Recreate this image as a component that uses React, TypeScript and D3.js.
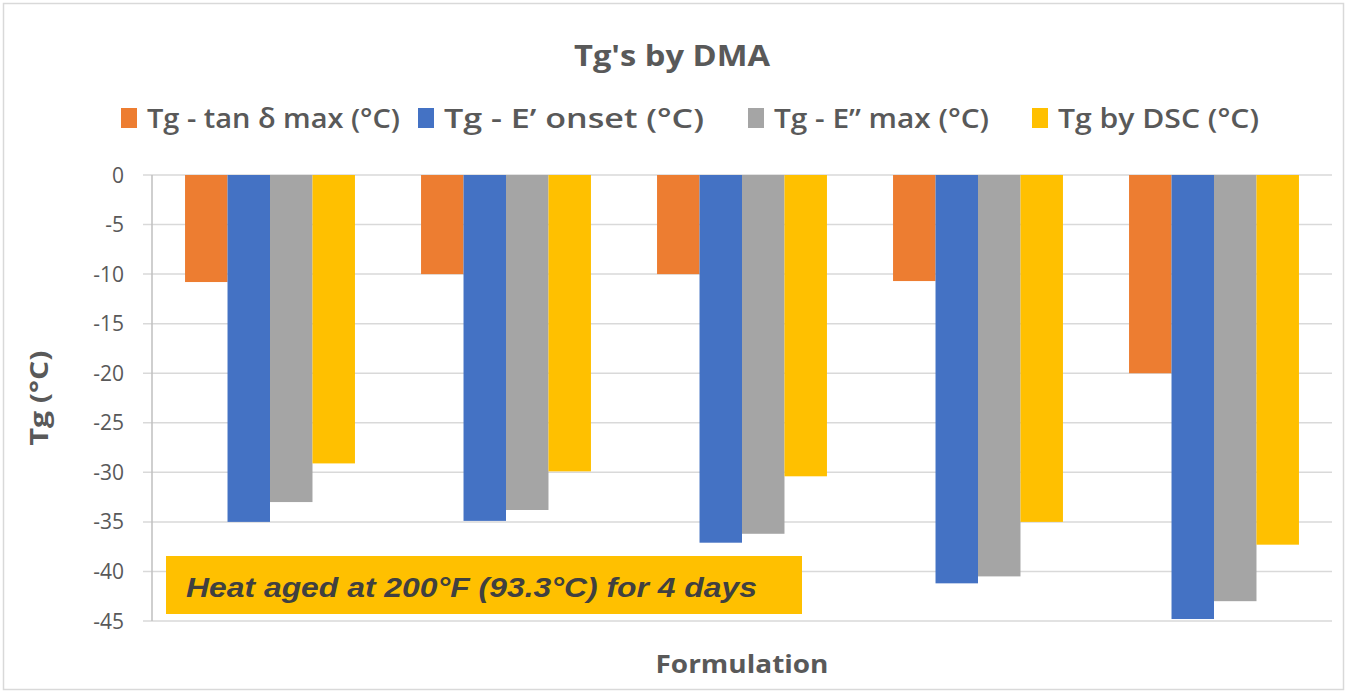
import React, { useEffect, useRef } from 'react';
import * as d3 from 'd3';

const categories = ['F1', 'F2', 'F3', 'F4', 'F5'];
const seriesNames = ['Tg - tan δ max (°C)', 'Tg - E’ onset (°C)', 'Tg - E” max (°C)', 'Tg by DSC (°C)'];
const seriesColors = ['#ED7D31', '#4472C4', '#A5A5A5', '#FFC000'];
const tanDeltaMax = [-10.8, -10.0, -10.0, -10.7, -20.0];
const eOnset = [-35.0, -34.9, -37.1, -41.2, -44.8];
const eDoubleMax = [-33.0, -33.8, -36.2, -40.5, -43.0];
const dscTg = [-29.1, -29.9, -30.4, -35.0, -37.3];
const yTicks = [0, -5, -10, -15, -20, -25, -30, -35, -40, -45];

const W = 1347;
const H = 693;
const plot = { left: 152, right: 1332, top: 175, bottom: 621 };

const ChartDMA: React.FC = () => {
  const svgRef = useRef<SVGSVGElement>(null);

  useEffect(() => {
    if (!svgRef.current) return;
    const svg = d3.select(svgRef.current);
    svg.selectAll('*').remove();

    const series = [tanDeltaMax, eOnset, eDoubleMax, dscTg];

    // chart frame
    svg.append('rect')
      .attr('x', 3.5).attr('y', 3.5)
      .attr('width', W - 7).attr('height', H - 7)
      .attr('fill', '#fff').attr('stroke', '#d9d9d9').attr('stroke-width', 1.5);

    const y = d3.scaleLinear().domain([0, -45]).range([plot.top, plot.bottom]);
    const x0 = d3.scaleBand().domain(categories).range([plot.left, plot.right]).paddingInner(0.28).paddingOuter(0.14);
    const x1 = d3.scaleBand().domain(seriesNames).range([0, x0.bandwidth()]);

    // gridlines
    svg.append('g')
      .selectAll('line')
      .data(yTicks)
      .join('line')
      .attr('x1', plot.left - 9).attr('x2', plot.right)
      .attr('y1', (d) => y(d)).attr('y2', (d) => y(d))
      .attr('stroke', '#d9d9d9').attr('stroke-width', 1.5);

    // y axis line
    svg.append('line')
      .attr('x1', plot.left).attr('x2', plot.left)
      .attr('y1', plot.top).attr('y2', plot.bottom)
      .attr('stroke', '#bfbfbf').attr('stroke-width', 1.5);

    // tick labels
    svg.append('g')
      .selectAll('text')
      .data(yTicks)
      .join('text')
      .attr('x', 124)
      .attr('y', (d) => y(d))
      .attr('dy', '0.36em')
      .attr('text-anchor', 'end')
      .attr('font-family', 'Open Sans, sans-serif')
      .attr('font-size', 21)
      .attr('fill', '#595959')
      .text((d) => String(d));

    // bars
    const groups = svg.append('g')
      .selectAll('g')
      .data(categories)
      .join('g')
      .attr('transform', (c) => `translate(${x0(c)},0)`);

    groups.selectAll('rect')
      .data((c, i) => series.map((s, k) => ({ name: seriesNames[k], value: s[i], color: seriesColors[k] })))
      .join('rect')
      .attr('x', (d) => x1(d.name)!)
      .attr('width', x1.bandwidth())
      .attr('y', y(0))
      .attr('height', (d) => y(d.value) - y(0))
      .attr('fill', (d) => d.color);

    // title
    svg.append('text')
      .attr('x', 672).attr('y', 66)
      .attr('text-anchor', 'middle')
      .attr('font-family', 'Open Sans, sans-serif')
      .attr('font-weight', 700)
      .attr('font-size', 29)
      .attr('fill', '#595959')
      .attr('textLength', 196)
      .attr('lengthAdjust', 'spacingAndGlyphs')
      .text("Tg's by DMA");

    // legend
    const legendX = [121, 418, 748, 1032];
    const legendW = [253, 260, 215, 201];
    const legend = svg.append('g')
      .selectAll('g')
      .data(seriesNames)
      .join('g')
      .attr('transform', (d, i) => `translate(${legendX[i]},0)`);
    legend.append('rect')
      .attr('x', 0).attr('y', 108)
      .attr('width', 16).attr('height', 20)
      .attr('fill', (d, i) => seriesColors[i]);
    legend.append('text')
      .attr('x', 26).attr('y', 128)
      .attr('font-family', 'Open Sans, sans-serif')
      .attr('font-weight', 600)
      .attr('font-size', 27)
      .attr('fill', '#595959')
      .attr('textLength', (d, i) => legendW[i])
      .attr('lengthAdjust', 'spacingAndGlyphs')
      .text((d) => d);

    // annotation box
    svg.append('rect')
      .attr('x', 166).attr('y', 556)
      .attr('width', 636).attr('height', 58)
      .attr('fill', '#FFC000');
    svg.append('text')
      .attr('x', 186).attr('y', 597)
      .attr('font-family', 'Liberation Sans, Arial, sans-serif')
      .attr('font-weight', 700)
      .attr('font-style', 'italic')
      .attr('font-size', 28)
      .attr('fill', '#404040')
      .attr('textLength', 571)
      .attr('lengthAdjust', 'spacingAndGlyphs')
      .text('Heat aged at 200°F (93.3°C) for 4 days');

    // axis titles
    svg.append('text')
      .attr('x', (plot.left + plot.right) / 2).attr('y', 673)
      .attr('text-anchor', 'middle')
      .attr('font-family', 'Open Sans, sans-serif')
      .attr('font-weight', 700)
      .attr('font-size', 25)
      .attr('fill', '#595959')
      .attr('textLength', 173)
      .attr('lengthAdjust', 'spacingAndGlyphs')
      .text('Formulation');

    svg.append('text')
      .attr('transform', `translate(48,${(plot.top + plot.bottom) / 2}) rotate(-90)`)
      .attr('text-anchor', 'middle')
      .attr('font-family', 'Open Sans, sans-serif')
      .attr('font-weight', 700)
      .attr('font-size', 25)
      .attr('fill', '#595959')
      .attr('textLength', 95)
      .attr('lengthAdjust', 'spacingAndGlyphs')
      .text('Tg (°C)');
  }, []);

  return (
    <svg
      ref={svgRef}
      width={W}
      height={H}
      style={{ position: 'absolute', left: 0, top: 0, display: 'block' }}
    />
  );
};

export default function App() {
  return <ChartDMA />;
}
